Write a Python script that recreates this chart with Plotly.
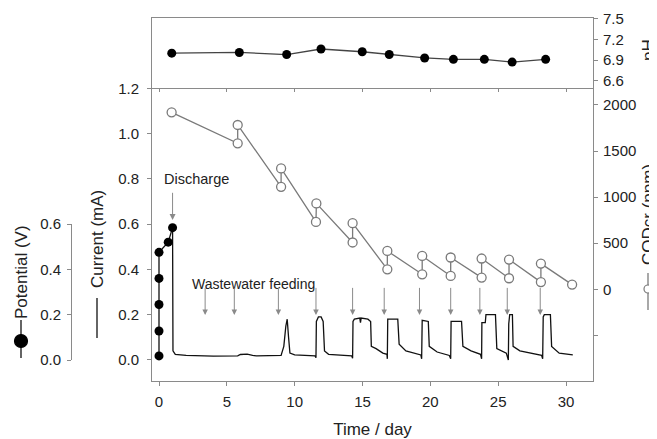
import plotly.graph_objects as go

# ---------------- data ----------------
ph_day = [0.94, 5.92, 9.41, 11.94, 14.98, 16.97, 19.58, 21.7, 23.98, 26.03, 28.5]
ph_val = [7.00, 7.01, 6.98, 7.06, 7.02, 6.98, 6.93, 6.91, 6.91, 6.87, 6.91]

pot_day = [0.0, 0.0, 0.0, 0.0, 0.0, 0.68, 1.0]
pot_v = [0.018, 0.128, 0.245, 0.36, 0.475, 0.52, 0.584]

cod_day = [0.93, 5.8, 5.8, 9.0, 9.0, 11.57, 11.6, 14.27, 14.27, 16.83, 16.83,
           19.4, 19.4, 21.5, 21.5, 23.78, 23.78, 25.8, 25.8, 28.15, 28.15, 30.45]
cod_ppm = [1920, 1584, 1783, 1112, 1312, 731, 932, 508, 717, 217, 416,
           163, 362, 145, 345, 127, 334, 120, 323, 78, 279, 51]

cur_day = [1.0, 1.03, 1.2, 2.0, 4.0, 5.8, 6.0, 6.5, 6.9, 7.2, 9.0, 9.2, 9.35, 9.45, 9.55, 9.65, 10.0,
           11.5, 11.57, 11.6, 11.75, 11.95, 12.1, 12.2, 12.5,
           14.2, 14.27, 14.3, 14.4, 14.8, 14.85, 14.9, 15.4, 15.6, 15.65, 16.0, 16.5,
           16.8, 16.83, 16.86, 17.6, 17.7, 18.2,
           19.3, 19.36, 19.4, 19.85, 19.92, 20.5,
           21.4, 21.5, 21.53, 22.3, 22.4, 23.0,
           23.7, 23.78, 23.8, 24.05, 24.1, 24.8, 24.9, 25.6,
           25.75, 25.78, 25.85, 26.05, 26.1, 26.6,
           28.2, 28.28, 28.32, 28.4, 28.85, 28.94, 29.5, 30.5]
cur_ma = [0.584, 0.04, 0.025, 0.02, 0.017, 0.018, 0.024, 0.026, 0.02, 0.018, 0.02, 0.06, 0.15, 0.18, 0.1, 0.03, 0.022,
          0.018, 0.01, 0.17, 0.19, 0.19, 0.17, 0.04, 0.025,
          0.018, 0.008, 0.17, 0.18, 0.185, 0.165, 0.185, 0.18, 0.17, 0.06, 0.05, 0.03,
          0.025, 0.005, 0.18, 0.18, 0.07, 0.04,
          0.022, 0.005, 0.175, 0.17, 0.06, 0.035,
          0.02, 0.005, 0.17, 0.17, 0.06, 0.04,
          0.025, 0.005, 0.165, 0.165, 0.2, 0.2, 0.05, 0.03,
          0.0, 0.16, 0.2, 0.2, 0.06, 0.04,
          0.02, 0.005, 0.19, 0.2, 0.2, 0.06, 0.03, 0.022]

feed_days = [3.4, 5.55, 8.8, 11.57, 14.27, 16.6, 19.2, 21.5, 23.65, 25.67, 28.1]
x_ticks = [0, 5, 10, 15, 20, 25, 30]
cur_ticks = [0.0, 0.2, 0.4, 0.6, 0.8, 1.0, 1.2]
pot_ticks = [0.0, 0.2, 0.4, 0.6]
cod_ticks = [-500, 0, 500, 1000, 1500, 2000]
cod_labels = ["", "0", "500", "1000", "1500", "2000"]
ph_ticks = [6.6, 6.9, 7.2, 7.5]

# ---------------- layout helpers (screen pixel coords; page body has 8px margin) ----------------
OFF = 8
W, H = 657 - OFF, 439 - OFF
L, R, T, B = 10, 593, 18, 381
def px(p):
    return (p - L) / (R - L)
def py(p):
    return (B - p) / (B - T)

FONT = "Liberation Sans, Arial, sans-serif"
TXT = "#222222"
AX = "#8a8a8a"

fig = go.Figure()

fig.add_trace(go.Scatter(x=cur_day, y=cur_ma, xaxis="x", yaxis="y", mode="lines",
                         line=dict(color="#111111", width=1.3), showlegend=False))
fig.add_trace(go.Scatter(x=cod_day, y=cod_ppm, xaxis="x", yaxis="y2", mode="lines+markers",
                         line=dict(color="#7a7a7a", width=1.3),
                         marker=dict(symbol="circle", size=9, color="white",
                                     line=dict(color="#7a7a7a", width=1.3)),
                         cliponaxis=False, showlegend=False))
fig.add_trace(go.Scatter(x=pot_day, y=pot_v, xaxis="x", yaxis="y3", mode="lines+markers",
                         line=dict(color="#111111", width=1.3),
                         marker=dict(size=9, color="#000000"),
                         cliponaxis=False, showlegend=False))
fig.add_trace(go.Scatter(x=ph_day, y=ph_val, xaxis="x2", yaxis="y4", mode="lines+markers",
                         line=dict(color="#444444", width=1.3),
                         marker=dict(size=9, color="#000000"),
                         cliponaxis=False, showlegend=False))

def ax(**kw):
    d = dict(showgrid=False, zeroline=False, showline=True, linecolor=AX, linewidth=1,
             ticks="outside", ticklen=4, tickcolor=AX, automargin=False,
             tickfont=dict(family=FONT, size=15, color=TXT))
    d.update(kw)
    return d

x_dom = [px(152), 1]
x_rng = [-0.516, 31.99]
y_main_top = py(88.3)

fig.update_layout(
    width=W, height=H,
    margin=dict(l=L - OFF, r=(OFF + W) - R, t=T - OFF, b=(OFF + H) - B, autoexpand=False),
    paper_bgcolor="white", plot_bgcolor="rgba(0,0,0,0)",
    font=dict(family=FONT, color=TXT),
    xaxis=ax(domain=x_dom, range=x_rng, anchor="y", tickvals=x_ticks, ticklabelstandoff=3,
             title=dict(text="Time / day", font=dict(size=17, family=FONT, color=TXT), standoff=16)),
    xaxis2=ax(domain=x_dom, range=x_rng, anchor="y4", matches="x", tickvals=x_ticks,
              showticklabels=False, mirror=True, ticklen=3),
    yaxis=ax(domain=[0, y_main_top], range=[-0.093, 1.2], anchor="x",
             tickvals=cur_ticks, tickformat=".1f", ticklabelstandoff=5),
    yaxis2=ax(overlaying="y", side="right", anchor="x", range=[-995, 2181],
              tickvals=cod_ticks, ticktext=cod_labels, ticklabelstandoff=2),
    yaxis3=ax(domain=[py(360), py(224)], range=[0, 0.6], anchor="free", position=px(71),
              side="left", tickvals=pot_ticks, tickformat=".1f", ticklabelstandoff=3),
    yaxis4=ax(domain=[y_main_top, 1], range=[6.49, 7.51], anchor="x2", side="right",
              mirror=True, tickvals=ph_ticks, tickformat=".1f", ticklabelstandoff=2),
)

ann = []
ann.append(dict(x=1.0, y=0.618, ax=1.0, ay=0.745, xref="x", yref="y", axref="x", ayref="y",
                showarrow=True, arrowhead=2, arrowsize=1.2, arrowwidth=1, arrowcolor="#8a8a8a",
                text=""))
ann.append(dict(x=2.73, y=0.80, xref="x", yref="y", text="Discharge", showarrow=False,
                font=dict(size=14.5, family=FONT, color=TXT)))
ann.append(dict(x=7.0, y=0.335, xref="x", yref="y", text="Wastewater feeding", showarrow=False,
                font=dict(size=14, family=FONT, color=TXT)))
for d in feed_days:
    ann.append(dict(x=d, y=0.199, ax=d, ay=0.325, xref="x", yref="y", axref="x", ayref="y",
                    showarrow=True, arrowhead=2, arrowsize=1.1, arrowwidth=1, arrowcolor="#8a8a8a",
                    text=""))

tfont = dict(size=17, family=FONT, color=TXT)
def vtitle(xs, ys, text):
    return dict(x=px(xs), y=py(ys), xref="paper", yref="paper", text=text, textangle=-90,
                xanchor="center", yanchor="middle", showarrow=False, font=tfont)
ann.append(vtitle(21, 272, "Potential (V)"))
ann.append(vtitle(97, 239, "Current (mA)"))
ann.append(vtitle(648, 215, "CODcr (ppm)"))
ann.append(vtitle(648, 50, "pH"))
fig.update_layout(annotations=ann)

# legend keys next to the axis titles
def key_line(xs, y0, y1, color):
    return dict(type="line", xref="paper", yref="paper", x0=px(xs), x1=px(xs), y0=py(y0), y1=py(y1),
                line=dict(color=color, width=1.3))
def key_dot(xs, ys, r, fill, color):
    return dict(type="circle", xref="paper", yref="paper",
                x0=px(xs - r), x1=px(xs + r), y0=py(ys + r), y1=py(ys - r),
                fillcolor=fill, line=dict(color=color, width=1.2))

shapes = [
    key_line(21, 320, 358, "#111111"),
    key_dot(21, 341, 6.5, "black", "black"),
    key_line(97, 298, 338, "#111111"),
    key_line(648, 273, 310, "#7a7a7a"),
    key_dot(648, 289, 4, "white", "#7a7a7a"),
]
fig.update_layout(shapes=shapes)

fig.write_html("out.html")
